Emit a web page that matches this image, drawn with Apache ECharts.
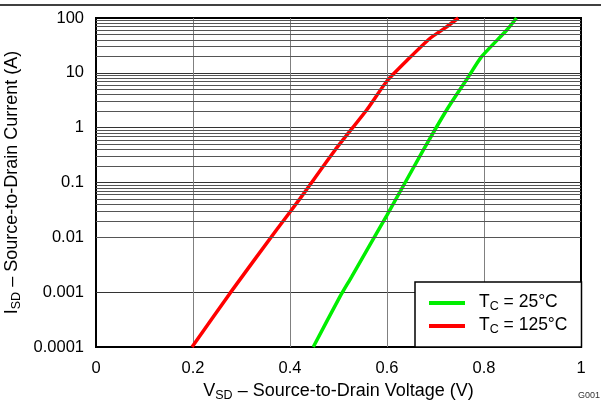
<!DOCTYPE html>
<html>
<head>
<meta charset="utf-8">
<script src="https://cdn.jsdelivr.net/npm/echarts@6/dist/echarts.min.js"></script>
<style>
  html, body { margin: 0; padding: 0; background: #fff; }
  #chart { width: 601px; height: 400px; }
</style>
</head>
<body>
<div id="chart"></div>
<script>
// Body-diode forward characteristic: source-to-drain current vs voltage
const voltage125 = [0.198, 0.276, 0.372, 0.421, 0.493, 0.558, 0.600, 0.644, 0.689, 0.720, 0.747];
const current125 = [0.0001, 0.00095, 0.0136, 0.0514, 0.392, 2.10, 7.1, 17.8, 42.7, 66, 100];
const voltage25 = [0.448, 0.503, 0.527, 0.600, 0.675, 0.723, 0.768, 0.795, 0.847, 0.867];
const current25 = [0.0001, 0.00083, 0.00191, 0.0255, 0.392, 2.10, 8.5, 19.7, 60.3, 100];

const xTickLabels = ['0', '0.2', '0.4', '0.6', '0.8', '1'];
const yTickLabels = ['0.0001', '0.001', '0.01', '0.1', '1', '10', '100'];
const seriesNames = ['Tc25', 'Tc125'];
const legendTemps = ['25°C', '125°C'];
const seriesColors = ['#00ee00', '#ff0000'];

const FONT = '"Liberation Sans", Arial, Helvetica, sans-serif';
const Y_MIN_EXP = -4, Y_MAX_EXP = 2;

// minor log grid values 2..9 within each decade
const minorGrid = [];
for (let d = Y_MIN_EXP; d < Y_MAX_EXP; d++) {
  for (let k = 2; k <= 9; k++) minorGrid.push(Number((k * Math.pow(10, d)).toPrecision(3)));
}

const pairs = (xs, ys) => xs.map((x, i) => [x, ys[i]]);

const chart = echarts.init(document.getElementById('chart'), null, { renderer: 'canvas' });

const titleRich = {
  n: { fontSize: 18, lineHeight: 20, verticalAlign: 'top', color: '#000', fontFamily: FONT },
  s: { fontSize: 12.5, lineHeight: 13, verticalAlign: 'bottom', color: '#000', fontFamily: FONT }
};

chart.setOption({
  animation: false,
  backgroundColor: '#fff',
  textStyle: { fontFamily: FONT },
  grid: {
    left: 96, right: 20, top: 18, bottom: 53,
    outerBoundsMode: 'none',
    containLabel: false,
    show: true, borderColor: '#000', borderWidth: 2, backgroundColor: 'transparent'
  },
  xAxis: {
    type: 'value', min: 0, max: 1, interval: 0.2,
    axisLine: { show: false },
    axisTick: { show: false },
    axisLabel: {
      margin: 13, color: '#000', fontSize: 16.5, fontFamily: FONT,
      formatter: v => xTickLabels[Math.round(v / 0.2)]
    },
    splitLine: { show: true, showMinLine: false, showMaxLine: false, lineStyle: { color: '#808080', width: 1 } },
    name: '{n|V}{s|SD}{n| – Source-to-Drain Voltage (V)}',
    nameLocation: 'middle',
    nameGap: 34,
    nameTextStyle: { color: '#000', fontFamily: FONT, fontSize: 18, rich: titleRich }
  },
  yAxis: {
    type: 'log', logBase: 10, min: Math.pow(10, Y_MIN_EXP), max: Math.pow(10, Y_MAX_EXP),
    axisLine: { show: false },
    axisTick: { show: false },
    axisLabel: {
      margin: 12, color: '#000', fontSize: 16.5, fontFamily: FONT,
      formatter: v => yTickLabels[Math.round(Math.log10(v)) - Y_MIN_EXP]
    },
    splitLine: { show: true, showMinLine: false, showMaxLine: false, lineStyle: { color: '#333', width: 1 } },
    minorTick: { show: false },
    minorSplitLine: { show: false },
    name: '{n|I}{s|SD}{n| – Source-to-Drain Current (A)}',
    nameLocation: 'middle',
    nameGap: 57,
    nameTextStyle: { color: '#000', fontFamily: FONT, fontSize: 18, rich: titleRich }
  },
  legend: {
    data: seriesNames,
    orient: 'vertical',
    left: 415, top: 282,
    backgroundColor: '#fff',
    borderColor: '#000', borderWidth: 1.5, borderRadius: 0,
    padding: [11, 14, 11, 14],
    itemGap: 3,
    itemWidth: 36, itemHeight: 4,
    icon: 'rect',
    selectedMode: false,
    formatter: name => '{n|T}{s|C}{n| = ' + legendTemps[seriesNames.indexOf(name)] + '}',
    textStyle: {
      color: '#000', fontFamily: FONT, fontSize: 17.5, padding: [0, 0, 0, 9],
      rich: {
        n: { fontSize: 17.5, lineHeight: 20, verticalAlign: 'top', color: '#000', fontFamily: FONT },
        s: { fontSize: 12.5, lineHeight: 13, verticalAlign: 'bottom', color: '#000', fontFamily: FONT }
      }
    }
  },
  graphic: [
    { type: 'line', shape: { x1: 0, y1: 5, x2: 601, y2: 5 }, style: { stroke: '#000', lineWidth: 1.5 }, silent: true },
    { type: 'text', left: 578, top: 391, style: { text: 'G001', fontSize: 9, fill: '#333', fontFamily: FONT }, silent: true }
  ],
  series: [
    {
      name: 'grid-minor', type: 'line', data: [], silent: true, z: 1,
      markLine: {
        silent: true, symbol: ['none', 'none'], animation: false,
        label: { show: false },
        emphasis: { disabled: true },
        lineStyle: { color: '#555', width: 1, type: 'solid' },
        data: minorGrid.map(v => ({ yAxis: v }))
      }
    },
    {
      name: seriesNames[0], type: 'line', data: pairs(voltage25, current25),
      showSymbol: false, smooth: 0.2, z: 3,
      itemStyle: { color: seriesColors[0] },
      lineStyle: { color: seriesColors[0], width: 3.5 }
    },
    {
      name: seriesNames[1], type: 'line', data: pairs(voltage125, current125),
      showSymbol: false, smooth: 0.2, z: 3,
      itemStyle: { color: seriesColors[1] },
      lineStyle: { color: seriesColors[1], width: 3.5 }
    }
  ]
});
</script>
</body>
</html>
